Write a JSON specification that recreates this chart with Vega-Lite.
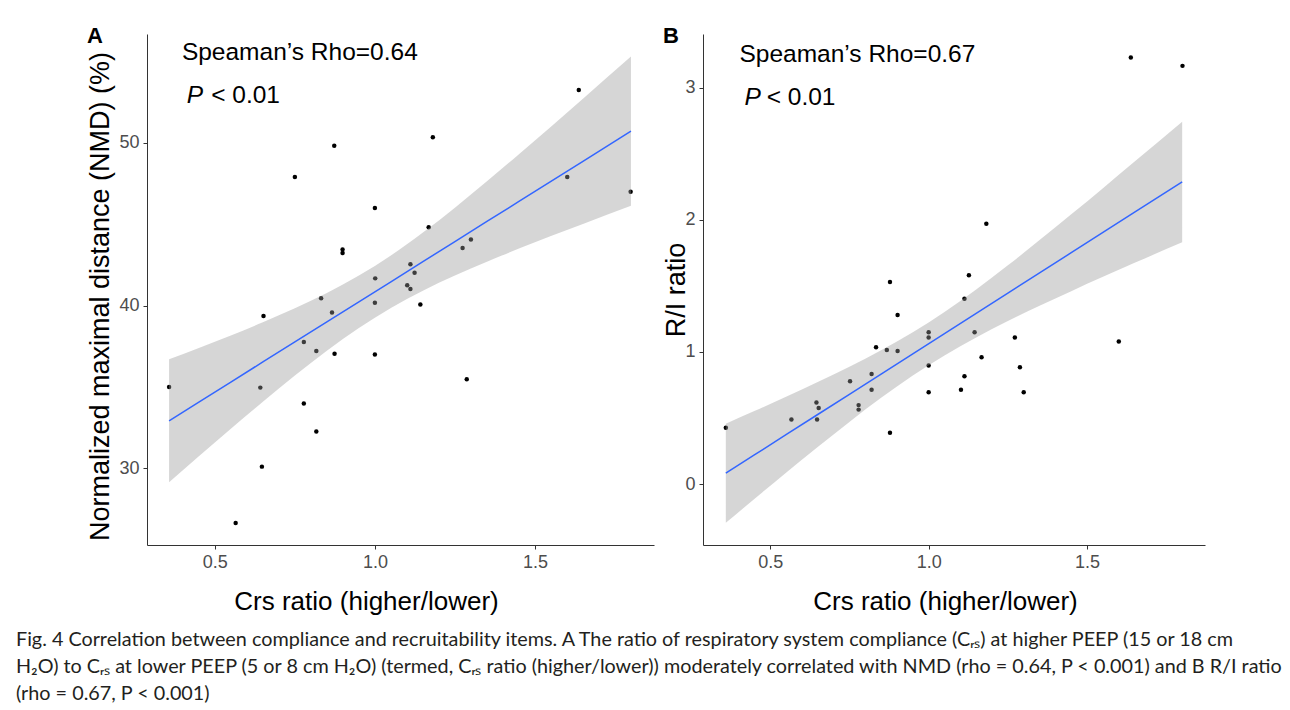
{
  "$schema": "https://vega.github.io/schema/vega-lite/v6.json",
  "background": "white",
  "padding": {"left": 15, "top": 25, "right": 10, "bottom": 5},
  "spacing": 8,
  "config": {
    "font": "Liberation Sans",
    "view": {"stroke": null},
    "axis": {
      "grid": false,
      "domainColor": "#333333",
      "domainWidth": 1,
      "tickColor": "#333333",
      "tickWidth": 1,
      "tickSize": 4,
      "labelFont": "Liberation Sans",
      "labelFontSize": 18,
      "labelColor": "#4D4D4D",
      "labelPadding": 4,
      "titleFont": "Liberation Sans",
      "titleFontSize": 26,
      "titleFontWeight": "normal",
      "titleColor": "#000000"
    },
    "axisY": {"titleFontSize": 27}
  },
  "datasets": {
    "nmd": [
      {"crs": 0.357, "nmd": 34.99}, {"crs": 0.565, "nmd": 26.62}, {"crs": 0.642, "nmd": 34.95},
      {"crs": 0.647, "nmd": 30.09}, {"crs": 0.652, "nmd": 39.36}, {"crs": 0.75, "nmd": 47.9},
      {"crs": 0.778, "nmd": 37.75}, {"crs": 0.778, "nmd": 33.98}, {"crs": 0.817, "nmd": 37.2},
      {"crs": 0.817, "nmd": 32.25}, {"crs": 0.832, "nmd": 40.45}, {"crs": 0.866, "nmd": 39.57},
      {"crs": 0.873, "nmd": 49.83}, {"crs": 0.874, "nmd": 37.03}, {"crs": 0.899, "nmd": 43.44},
      {"crs": 0.899, "nmd": 43.23}, {"crs": 1.0, "nmd": 46.0}, {"crs": 1.0, "nmd": 40.17},
      {"crs": 1.0, "nmd": 36.99}, {"crs": 1.001, "nmd": 41.67}, {"crs": 1.101, "nmd": 41.24},
      {"crs": 1.111, "nmd": 42.54}, {"crs": 1.111, "nmd": 41.01}, {"crs": 1.124, "nmd": 42.02},
      {"crs": 1.142, "nmd": 40.06}, {"crs": 1.168, "nmd": 44.82}, {"crs": 1.181, "nmd": 50.35},
      {"crs": 1.274, "nmd": 43.54}, {"crs": 1.287, "nmd": 35.47}, {"crs": 1.3, "nmd": 44.06},
      {"crs": 1.601, "nmd": 47.9}, {"crs": 1.637, "nmd": 53.25}, {"crs": 1.799, "nmd": 47.0}
    ],
    "ri": [
      {"crs": 0.36, "ri": 0.427}, {"crs": 0.567, "ri": 0.49}, {"crs": 0.646, "ri": 0.617},
      {"crs": 0.648, "ri": 0.49}, {"crs": 0.653, "ri": 0.576}, {"crs": 0.752, "ri": 0.778},
      {"crs": 0.779, "ri": 0.598}, {"crs": 0.779, "ri": 0.564}, {"crs": 0.82, "ri": 0.833},
      {"crs": 0.82, "ri": 0.715}, {"crs": 0.834, "ri": 1.036}, {"crs": 0.868, "ri": 1.015},
      {"crs": 0.878, "ri": 1.53}, {"crs": 0.878, "ri": 0.389}, {"crs": 0.902, "ri": 1.28},
      {"crs": 0.902, "ri": 1.008}, {"crs": 1.0, "ri": 1.149}, {"crs": 1.0, "ri": 1.109},
      {"crs": 1.0, "ri": 0.897}, {"crs": 1.0, "ri": 0.695}, {"crs": 1.102, "ri": 0.715},
      {"crs": 1.113, "ri": 1.402}, {"crs": 1.113, "ri": 0.816}, {"crs": 1.127, "ri": 1.581},
      {"crs": 1.145, "ri": 1.149}, {"crs": 1.167, "ri": 0.96}, {"crs": 1.182, "ri": 1.97},
      {"crs": 1.272, "ri": 1.109}, {"crs": 1.288, "ri": 0.884}, {"crs": 1.3, "ri": 0.695},
      {"crs": 1.6, "ri": 1.079}, {"crs": 1.638, "ri": 3.227}, {"crs": 1.801, "ri": 3.164}
    ],
    "fitA": [
      {"crs": 0.357, "fit": 32.91, "lo": 29.13, "hi": 36.69},
      {"crs": 0.45, "fit": 34.06, "lo": 30.73, "hi": 37.39},
      {"crs": 0.55, "fit": 35.29, "lo": 32.42, "hi": 38.16},
      {"crs": 0.65, "fit": 36.53, "lo": 34.08, "hi": 38.97},
      {"crs": 0.75, "fit": 37.76, "lo": 35.69, "hi": 39.83},
      {"crs": 0.85, "fit": 38.99, "lo": 37.22, "hi": 40.77},
      {"crs": 0.95, "fit": 40.23, "lo": 38.62, "hi": 41.84},
      {"crs": 1.05, "fit": 41.46, "lo": 39.85, "hi": 43.08},
      {"crs": 1.15, "fit": 42.7, "lo": 40.91, "hi": 44.49},
      {"crs": 1.25, "fit": 43.93, "lo": 41.84, "hi": 46.02},
      {"crs": 1.35, "fit": 45.17, "lo": 42.69, "hi": 47.64},
      {"crs": 1.45, "fit": 46.4, "lo": 43.5, "hi": 49.31},
      {"crs": 1.55, "fit": 47.63, "lo": 44.27, "hi": 51.0},
      {"crs": 1.65, "fit": 48.87, "lo": 45.02, "hi": 52.72},
      {"crs": 1.8, "fit": 50.72, "lo": 46.13, "hi": 55.31}
    ],
    "fitB": [
      {"crs": 0.36, "fit": 0.083, "lo": -0.292, "hi": 0.458},
      {"crs": 0.45, "fit": 0.221, "lo": -0.112, "hi": 0.553},
      {"crs": 0.55, "fit": 0.374, "lo": 0.087, "hi": 0.661},
      {"crs": 0.65, "fit": 0.527, "lo": 0.282, "hi": 0.772},
      {"crs": 0.75, "fit": 0.68, "lo": 0.471, "hi": 0.888},
      {"crs": 0.85, "fit": 0.833, "lo": 0.653, "hi": 1.013},
      {"crs": 0.95, "fit": 0.986, "lo": 0.822, "hi": 1.15},
      {"crs": 1.05, "fit": 1.139, "lo": 0.974, "hi": 1.303},
      {"crs": 1.15, "fit": 1.292, "lo": 1.11, "hi": 1.473},
      {"crs": 1.25, "fit": 1.445, "lo": 1.234, "hi": 1.655},
      {"crs": 1.35, "fit": 1.598, "lo": 1.35, "hi": 1.846},
      {"crs": 1.45, "fit": 1.751, "lo": 1.46, "hi": 2.041},
      {"crs": 1.55, "fit": 1.904, "lo": 1.568, "hi": 2.239},
      {"crs": 1.65, "fit": 2.057, "lo": 1.674, "hi": 2.44},
      {"crs": 1.8, "fit": 2.286, "lo": 1.83, "hi": 2.742}
    ],
    "annA": [
      {"crs": 0.397, "v": 55.09, "label": "Speaman’s Rho=0.64"},
      {"crs": 0.4885, "v": 52.43, "label": "< 0.01"},
      {"crs": 0.4125, "v": 52.43, "label": "P"}
    ],
    "annB": [
      {"crs": 0.403, "v": 3.197, "label": "Speaman’s Rho=0.67"},
      {"crs": 0.489, "v": 2.869, "label": "< 0.01"},
      {"crs": 0.419, "v": 2.869, "label": "P"}
    ]
  },
  "title": {
    "text": [
      "Fig. 4  Correlation between compliance and recruitability items. A The ratio of respiratory system compliance (Cᵣₛ) at higher PEEP (15 or 18 cm",
      "H₂O) to Cᵣₛ at lower PEEP (5 or 8 cm H₂O) (termed, Cᵣₛ ratio (higher/lower)) moderately correlated with NMD (rho = 0.64, P < 0.001) and B R/I ratio",
      "(rho = 0.67, P < 0.001)"
    ],
    "orient": "bottom",
    "anchor": "start",
    "frame": "bounds",
    "font": "Lato",
    "fontSize": 19.8,
    "fontWeight": "normal",
    "color": "#231F20",
    "lineHeight": 27,
    "baseline": "top",
    "offset": 16,
    "dx": -71
  },
  "hconcat": [
    {
      "width": 507,
      "height": 511,
      "title": {"text": "A", "anchor": "start", "frame": "bounds", "fontSize": 22, "fontWeight": "bold", "baseline": "top", "offset": -14, "color": "#000000"},
      "layer": [
        {
          "data": {"name": "nmd"},
          "mark": {"type": "circle", "size": 20, "color": "#000000", "opacity": 1},
          "encoding": {
            "x": {"field": "crs", "type": "quantitative", "title": "Crs ratio (higher/lower)",
              "scale": {"domain": [0.288, 1.872], "nice": false, "zero": false},
              "axis": {"values": [0.5, 1.0, 1.5], "format": ".1f", "titlePadding": 17, "titleX": 219}},
            "y": {"field": "nmd", "type": "quantitative", "title": "Normalized maximal distance (NMD) (%)",
              "scale": {"domain": [25.27, 56.7], "nice": false, "zero": false},
              "axis": {"values": [30, 40, 50], "titlePadding": 4, "titleY": 262}}
          }
        },
        {
          "data": {"name": "fitA"},
          "mark": {"type": "area", "color": "#999999", "opacity": 0.4, "interpolate": "monotone"},
          "encoding": {
            "x": {"field": "crs", "type": "quantitative", "title": "Crs ratio (higher/lower)"},
            "y": {"field": "lo", "type": "quantitative", "title": "Normalized maximal distance (NMD) (%)"},
            "y2": {"field": "hi"}
          }
        },
        {
          "data": {"name": "fitA"},
          "mark": {"type": "line", "color": "#3366FF", "strokeWidth": 1.5},
          "encoding": {
            "x": {"field": "crs", "type": "quantitative", "title": "Crs ratio (higher/lower)"},
            "y": {"field": "fit", "type": "quantitative", "title": "Normalized maximal distance (NMD) (%)"}
          }
        },
        {
          "data": {"name": "annA"},
          "transform": [{"filter": "datum.label != 'P'"}],
          "mark": {"type": "text", "align": "left", "baseline": "alphabetic", "fontSize": 24.5, "color": "#000000"},
          "encoding": {
            "x": {"field": "crs", "type": "quantitative", "title": "Crs ratio (higher/lower)"},
            "y": {"field": "v", "type": "quantitative", "title": "Normalized maximal distance (NMD) (%)"},
            "text": {"field": "label"}
          }
        },
        {
          "data": {"name": "annA"},
          "transform": [{"filter": "datum.label == 'P'"}],
          "mark": {"type": "text", "align": "left", "baseline": "alphabetic", "fontSize": 24.5, "fontStyle": "italic", "color": "#000000"},
          "encoding": {
            "x": {"field": "crs", "type": "quantitative", "title": "Crs ratio (higher/lower)"},
            "y": {"field": "v", "type": "quantitative", "title": "Normalized maximal distance (NMD) (%)"},
            "text": {"field": "label"}
          }
        }
      ]
    },
    {
      "width": 502,
      "height": 511,
      "title": {"text": "B", "anchor": "start", "frame": "bounds", "fontSize": 22, "fontWeight": "bold", "baseline": "top", "offset": -14, "color": "#000000"},
      "layer": [
        {
          "data": {"name": "ri"},
          "mark": {"type": "circle", "size": 20, "color": "#000000", "opacity": 1},
          "encoding": {
            "x": {"field": "crs", "type": "quantitative", "title": "Crs ratio (higher/lower)",
              "scale": {"domain": [0.288, 1.872], "nice": false, "zero": false},
              "axis": {"values": [0.5, 1.0, 1.5], "format": ".1f", "titlePadding": 17, "titleX": 242}},
            "y": {"field": "ri", "type": "quantitative", "title": "R/I ratio",
              "scale": {"domain": [-0.46, 3.405], "nice": false, "zero": false},
              "axis": {"values": [0, 1, 2, 3], "format": "d", "titlePadding": -6}}
          }
        },
        {
          "data": {"name": "fitB"},
          "mark": {"type": "area", "color": "#999999", "opacity": 0.4, "interpolate": "monotone"},
          "encoding": {
            "x": {"field": "crs", "type": "quantitative", "title": "Crs ratio (higher/lower)"},
            "y": {"field": "lo", "type": "quantitative", "title": "R/I ratio"},
            "y2": {"field": "hi"}
          }
        },
        {
          "data": {"name": "fitB"},
          "mark": {"type": "line", "color": "#3366FF", "strokeWidth": 1.5},
          "encoding": {
            "x": {"field": "crs", "type": "quantitative", "title": "Crs ratio (higher/lower)"},
            "y": {"field": "fit", "type": "quantitative", "title": "R/I ratio"}
          }
        },
        {
          "data": {"name": "annB"},
          "transform": [{"filter": "datum.label != 'P'"}],
          "mark": {"type": "text", "align": "left", "baseline": "alphabetic", "fontSize": 24.5, "color": "#000000"},
          "encoding": {
            "x": {"field": "crs", "type": "quantitative", "title": "Crs ratio (higher/lower)"},
            "y": {"field": "v", "type": "quantitative", "title": "R/I ratio"},
            "text": {"field": "label"}
          }
        },
        {
          "data": {"name": "annB"},
          "transform": [{"filter": "datum.label == 'P'"}],
          "mark": {"type": "text", "align": "left", "baseline": "alphabetic", "fontSize": 24.5, "fontStyle": "italic", "color": "#000000"},
          "encoding": {
            "x": {"field": "crs", "type": "quantitative", "title": "Crs ratio (higher/lower)"},
            "y": {"field": "v", "type": "quantitative", "title": "R/I ratio"},
            "text": {"field": "label"}
          }
        }
      ]
    }
  ]
}
